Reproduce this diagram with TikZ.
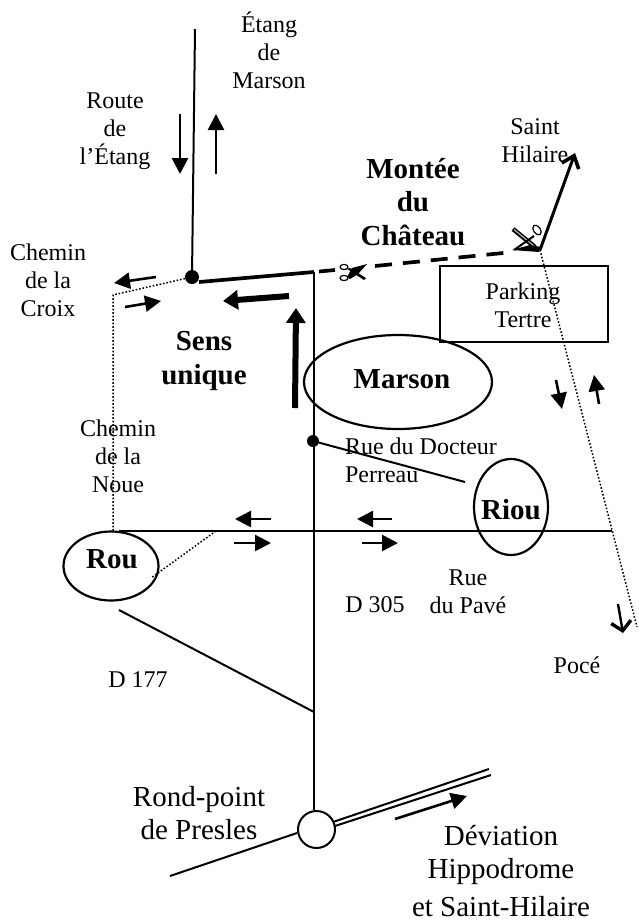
\documentclass[tikz,border=0pt]{standalone}
\usepackage{fontspec}
\setmainfont{Liberation Serif}
\usetikzlibrary{arrows.meta,shapes.geometric}
\tikzset{
  x=1pt,y=-1pt,
  road/.style={draw,line width=2pt},
  thickroad/.style={draw,line width=3.7pt},
  dots/.style={draw,line width=1.5pt,dash pattern=on 1.6pt off 1.9pt},
  smallarrow/.style={draw,line width=2.6pt,-{Triangle[length=16pt,width=16pt]}},
  bigarrow/.style={draw,line width=6pt,-{Triangle[length=15pt,width=19pt]}},
  openarrow/.style={draw,line width=2.4pt,-{Straight Barb[length=9pt,width=20pt,line width=3.4pt]}},
  lab/.style={font=\fontsize{24}{27.6}\selectfont,align=center,inner sep=0pt,anchor=base},
  labbig/.style={font=\fontsize{29}{33}\selectfont,align=center,inner sep=0pt,anchor=base},
  labbold/.style={font=\fontsize{29}{33.5}\selectfont\bfseries,align=center,inner sep=0pt,anchor=base},
  place/.style={draw,line width=2.2pt,ellipse,inner sep=0pt},
  dot/.style={circle,fill=black,inner sep=0pt,minimum size=14pt},
  dotsmall/.style={circle,fill=black,inner sep=0pt,minimum size=12pt},
}
\begin{document}
\begin{tikzpicture}
\useasboundingbox (0,0) rectangle (638,922);
% junctions
\coordinate (top) at (195,29);
\node[dot] (j1) at (192,277) {};
\coordinate (corner) at (314,272);
\coordinate (sc) at (540,250);
\coordinate (sh) at (575,153);
\node[dotsmall] (j2) at (313,441) {};
\coordinate (hw) at (119,531);
\coordinate (he) at (612,531);
\coordinate (cr) at (113,295);
\coordinate (bot) at (314,712);
\coordinate (d177) at (119,610);
\coordinate (h216) at (216,531);
\coordinate (pe) at (637,627);
% places
\node[place,minimum width=188pt,minimum height=94pt] (marson) at (398,382) {};
\node[place,minimum width=74pt,minimum height=96pt] (riou) at (511,507) {};
\node[place,minimum width=95pt,minimum height=69pt] (rou) at (111,566) {};
\node[draw,line width=1.8pt,minimum width=168pt,minimum height=76pt,inner sep=0pt] (park) at (524,304) {};
\node[circle,draw,line width=2pt,minimum size=37pt,inner sep=0pt] (rp) at (316.5,829.5) {};
% roads
\draw[road] (top) -- (j1);
\draw[thickroad] (199,282) -- (corner);
\draw[road] (corner) -- (rp.north -| corner);
\draw[thickroad] (319,271.5) -- (335,270);
\draw[thickroad,dash pattern=on 17pt off 11pt] (375,266) -- (513,252);
\draw[line width=3pt,-{Straight Barb[length=11pt,width=18pt,line width=3.6pt]}] (sc) -- (sh);
\draw[dots] (sc) -- (pe);
\draw[dots] (j1) -- (cr) -- (hw -| cr);
\draw[road] (hw) -- (he);
\draw[dots] (h216) -- (151,578);
\draw[road] (d177) -- (bot);
\draw[road] (j2) -- (465,482);
\draw[road] (297,833) -- (170,876);
\draw[road] (333,822) -- (489,769);
\draw[road] (335,826) -- (491,775);
% arrows
\draw[smallarrow] (180,114) -- (180,174);
\draw[smallarrow] (216,174) -- (216,114);
\draw[smallarrow] (156,277) -- (114,283);
\draw[smallarrow] (125,307) -- (161,301);
\draw[bigarrow] (289,296) -- (223,301);
\draw[bigarrow] (295,408) -- (296,308);
\draw[smallarrow] (271,519) -- (235,519);
\draw[smallarrow] (234,543) -- (271,543);
\draw[smallarrow] (392,519) -- (357,519);
\draw[smallarrow] (362,543) -- (398,543);
\draw[smallarrow] (556,380) -- (562,409);
\draw[smallarrow] (599,404) -- (594,375);
\draw[openarrow] (618,604) -- (623,633);
\draw[smallarrow] (395,819) -- (467,796);
% small scissors
\draw[line width=1.2pt] (344,267) ellipse [x radius=4pt,y radius=2.6pt];
\draw[line width=1.2pt] (344,278) ellipse [x radius=4pt,y radius=2.6pt];
\fill (347,269) -- (350,268) -- (366,278) -- (364,280) -- cycle;
\fill (347,277) -- (352,268) -- (367,264) -- (358,274) -- (350,279) -- cycle;
% big scissors
\draw[line width=4.5pt] (513,229) -- (535,247);
\draw[line width=1.2pt,white!70!black] (514,229.5) -- (534,246);
\draw[line width=1.2pt,rotate around={35:(537,230)}] (537,230) ellipse [x radius=3.4pt,y radius=5.5pt];
\draw[line width=2pt] (534,236) -- (514,250);
\fill (512,250) -- (530,245) -- (541,247) -- (539,252) -- cycle;
% labels
\node[lab] (l1) at (269,88) {Étang\\de\\Marson};
\node[lab] (l2) at (115,164) {Route\\de\\l’Étang};
\node[lab] (l3) at (535,162) {Saint\\Hilaire};
\node[labbold] (l4) at (413,245) {Montée\\du\\Château};
\node[lab] (l5) at (48,316) {Chemin\\de la\\Croix};
\node[labbold] (l6) at (204,384) {Sens\\unique};
\node[labbold] (l18) at (402,388) {Marson};
\node[lab] (l7) at (523,327) {Parking\\Tertre};
\node[lab] (l8) at (118,492) {Chemin\\de la\\Noue};
\node[lab,align=left] (l9) at (421,482) {Rue du Docteur\\Perreau};
\node[labbold] (l19) at (511,519) {Riou};
\node[labbold] (l20) at (112,568) {Rou};
\node[lab] (l10) at (468,613) {Rue\\du Pavé};
\node[lab] (l11) at (375,612) {D 305};
\node[lab] (l12) at (138,687) {D 177};
\node[lab] (l13) at (577,673) {Pocé};
\node[labbig] (l14) at (199,839) {Rond-point\\de Presles};
\node[labbig] (l15) at (501,878) {Déviation\\Hippodrome};
\node[labbig] (l17) at (501,916) {et Saint-Hilaire};
\end{tikzpicture}
\end{document}
